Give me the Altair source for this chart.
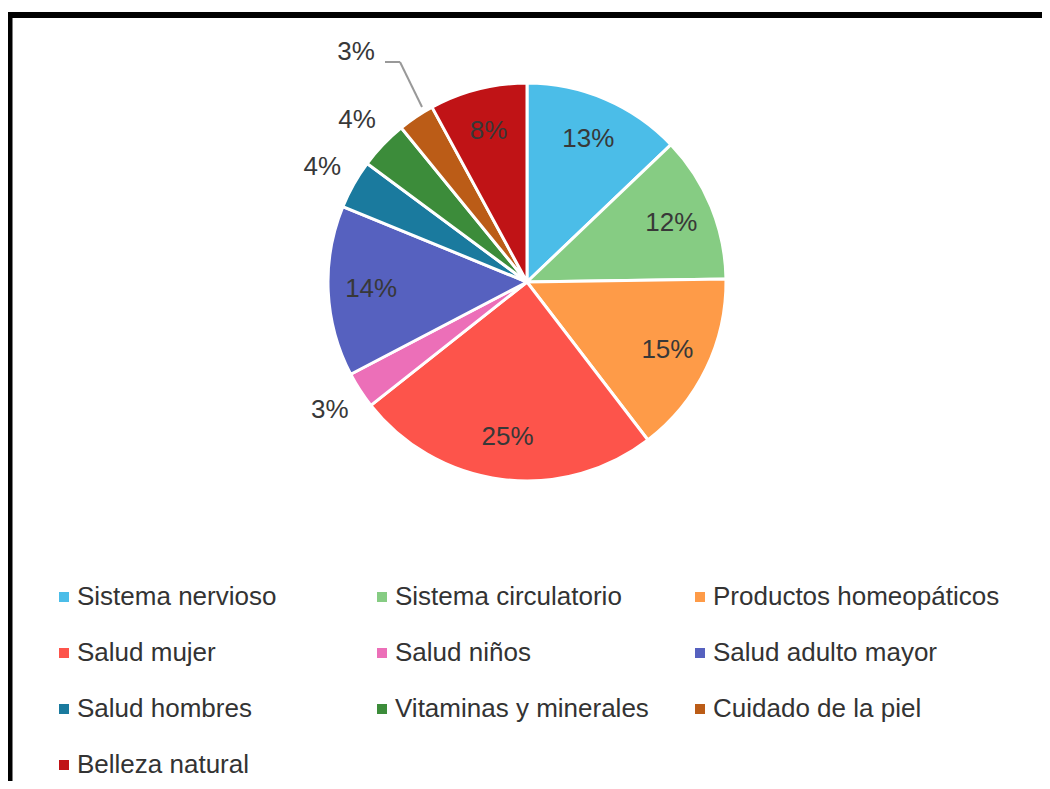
import altair as alt
import pandas as pd

categories = [
    "Sistema nervioso", "Sistema circulatorio", "Productos homeopáticos",
    "Salud mujer", "Salud niños", "Salud adulto mayor",
    "Salud hombres", "Vitaminas y minerales", "Cuidado de la piel",
    "Belleza natural",
]
percent = [13, 12, 15, 25, 3, 14, 4, 4, 3, 8]
colors = [
    "#4BBDE8", "#86CC83", "#FE9B48", "#FD544B", "#EC6FB8",
    "#5661BF", "#1A7A9E", "#3C8C3A", "#BB5C17", "#C01316",
]

df = pd.DataFrame({
    "categoria": categories,
    "porcentaje": percent,
    "orden": list(range(len(categories))),
})

FONT = "Liberation Sans"
TXT = "#383838"
CX, CY = 519, 274

base = alt.Chart(df).encode(
    theta=alt.Theta("porcentaje:Q", stack=True),
    order=alt.Order("orden:Q"),
    x=alt.value(CX),
    y=alt.value(CY),
)

pie = base.mark_arc(outerRadius=199, stroke="white", strokeWidth=3).encode(
    color=alt.Color(
        "categoria:N",
        sort=categories,
        scale=alt.Scale(domain=categories, range=colors),
        legend=alt.Legend(
            title=None, orient="none", legendX=43, legendY=576,
            direction="horizontal", columns=3, gridAlign="all",
            symbolType="square", symbolSize=100, symbolStrokeWidth=0,
            labelFont=FONT, labelFontSize=26, labelColor="#333333",
            labelLimit=400, labelOffset=0, columnPadding=5, rowPadding=30,
            padding=0,
        ),
    )
)

inside = base.transform_calculate(
    lab="datum.porcentaje >= 8 ? datum.porcentaje + '%' : ''"
).mark_text(radius=156, font=FONT, fontSize=26, color=TXT).encode(text="lab:N")

outside = base.transform_calculate(
    lab="(datum.porcentaje < 8 && datum.categoria != 'Cuidado de la piel') ? datum.porcentaje + '%' : ''"
).mark_text(radius=235, font=FONT, fontSize=26, color=TXT).encode(text="lab:N")

lead = base.transform_calculate(
    lab="datum.categoria == 'Cuidado de la piel' ? datum.porcentaje + '%' : ''"
).mark_text(radius=289, dx=-10, dy=10, font=FONT, fontSize=26, color=TXT).encode(text="lab:N")

one = pd.DataFrame({"a": [0]})
leader1 = alt.Chart(one).mark_rule(color="#999999", strokeWidth=2).encode(
    x=alt.value(377), x2=alt.value(392), y=alt.value(54), y2=alt.value(54))
leader2 = alt.Chart(one).mark_rule(color="#999999", strokeWidth=2).encode(
    x=alt.value(392), x2=alt.value(414), y=alt.value(54), y2=alt.value(99))
frame_top = alt.Chart(one).mark_rule(color="black", strokeWidth=6).encode(
    x=alt.value(0), x2=alt.value(1034), y=alt.value(7), y2=alt.value(7))
frame_left = alt.Chart(one).mark_rule(color="black", strokeWidth=5).encode(
    x=alt.value(2), x2=alt.value(2), y=alt.value(4), y2=alt.value(773))

chart = alt.layer(
    pie, inside, outside, lead, leader1, leader2, frame_top, frame_left
).properties(
    width=1034, height=773,
    autosize=alt.AutoSizeParams(type="none"),
    padding=0,
).configure_view(stroke=None)

chart.save("out.html", embed_options={"renderer": "svg", "actions": False})
